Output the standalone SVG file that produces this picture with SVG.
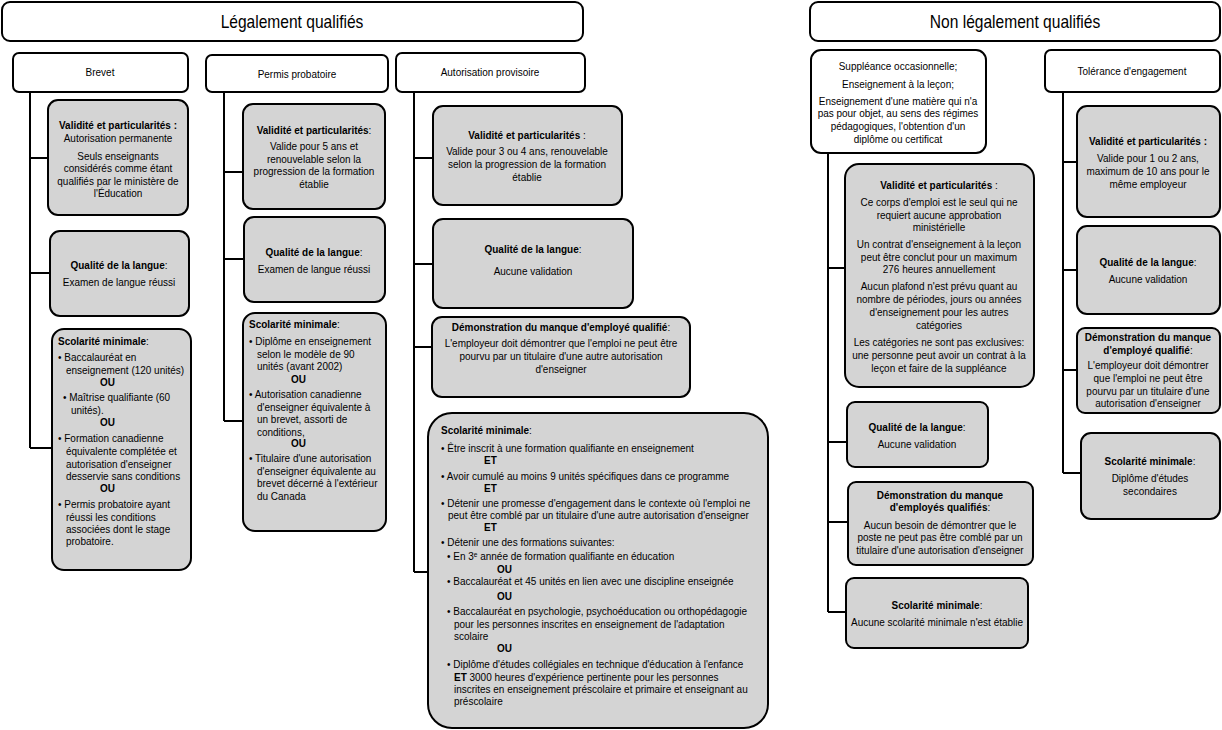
<svg xmlns="http://www.w3.org/2000/svg" width="1222" height="730" viewBox="0 0 1222 730">
<style>
text{font-family:"Liberation Sans",Arial,sans-serif;font-size:10.5px;fill:#000;transform-box:fill-box;transform-origin:left center;transform:scaleX(0.95)}
.c{text-anchor:middle;transform-origin:center}
.b{font-weight:bold}
.h{font-size:17.5px;transform:scaleX(0.89)}
.w{fill:#fff;stroke:#000;stroke-width:2}
.g{fill:#d4d4d4;stroke:#000;stroke-width:2}
.ln{fill:none;stroke:#000;stroke-width:2}
</style>
<rect width="1222" height="730" fill="#fff"/>
<g id="connectors">
<path class="ln" d="M30,92V448M30,158H48M30,273H50M30,448H52"/>
<path class="ln" d="M224,92V421M224,172H243M224,259H244M224,421H243"/>
<path class="ln" d="M414,92V572M414,158H433M414,264H433M414,347H432M414,572H428"/>
<path class="ln" d="M828,153V612M828,268H845M828,442H847M828,522H848M828,612H846"/>
<path class="ln" d="M1063,92V473M1063,162H1077M1063,270H1077M1063,370H1077M1063,473H1081"/>
</g>
<g id="legal">
<rect class="w" x="2" y="2" width="581" height="39" rx="8"/>
<text class="c h" x="292" y="28">Légalement qualifiés</text>
</g>
<g id="nonlegal">
<rect class="w" x="810" y="2" width="410" height="39" rx="8"/>
<text class="c h" x="1015" y="28">Non légalement qualifiés</text>
</g>
<g id="brevet">
<rect class="w" x="13" y="53" width="175" height="39" rx="6"/>
<text class="c" x="100" y="76">Brevet</text>
</g>
<g id="permis">
<rect class="w" x="206" y="55" width="182" height="37" rx="6"/>
<text class="c" x="297" y="78">Permis probatoire</text>
</g>
<g id="autorisation">
<rect class="w" x="396" y="53" width="189" height="39" rx="6"/>
<text class="c" x="490" y="76">Autorisation provisoire</text>
</g>
<g id="suppleance">
<rect class="w" x="811" y="50" width="175" height="103" rx="10"/>
<text class="c" x="898" y="70">Suppléance occasionnelle;</text>
<text class="c" x="898" y="88">Enseignement à la leçon;</text>
<text class="c" x="898" y="105">Enseignement d'une matière qui n'a</text>
<text class="c" x="898" y="117">pas pour objet, au sens des régimes</text>
<text class="c" x="898" y="130">pédagogiques, l'obtention d'un</text>
<text class="c" x="898" y="143">diplôme ou certificat</text>
</g>
<g id="tolerance">
<rect class="w" x="1045" y="50" width="175" height="42" rx="6"/>
<text class="c" x="1132" y="75">Tolérance d'engagement</text>
</g>

<g id="brevet-validite">
<rect class="g" x="48" y="100" width="140" height="115" rx="10"/>
<text class="c" x="118" y="129"><tspan class="b">Validité et particularités :</tspan></text>
<text class="c" x="118" y="142">Autorisation permanente</text>
<text class="c" x="118" y="160">Seuls enseignants</text>
<text class="c" x="118" y="172">considérés comme étant</text>
<text class="c" x="118" y="185">qualifiés par le ministère de</text>
<text class="c" x="118" y="197">l'Éducation</text>
</g>
<g id="brevet-langue">
<rect class="g" x="50" y="231" width="139" height="85" rx="10"/>
<text class="c" x="119" y="269"><tspan class="b">Qualité de la langue</tspan>:</text>
<text class="c" x="119" y="286">Examen de langue réussi</text>
</g>
<g id="brevet-scolarite">
<rect class="g" x="52" y="329" width="139" height="241" rx="12"/>
<text x="58" y="345"><tspan class="b">Scolarité minimale</tspan>:</text>
<text x="58" y="361">• Baccalauréat en</text>
<text x="66" y="374">enseignement (120 unités)</text>
<text class="b" x="100" y="386">OU</text>
<text x="63" y="401">• Maîtrise qualifiante (60</text>
<text x="71" y="414">unités).</text>
<text class="b" x="100" y="426">OU</text>
<text x="58" y="442">• Formation canadienne</text>
<text x="66" y="455">équivalente complétée et</text>
<text x="66" y="468">autorisation d'enseigner</text>
<text x="66" y="480">desservie sans conditions</text>
<text class="b" x="100" y="492">OU</text>
<text x="58" y="508">• Permis probatoire ayant</text>
<text x="66" y="521">réussi les conditions</text>
<text x="66" y="533">associées dont le stage</text>
<text x="66" y="545">probatoire.</text>
</g>

<g id="permis-validite">
<rect class="g" x="243" y="104" width="142" height="105" rx="10"/>
<text class="c" x="314" y="134"><tspan class="b">Validité et  particularités</tspan>:</text>
<text class="c" x="314" y="150">Valide pour 5 ans et</text>
<text class="c" x="314" y="163">renouvelable selon la</text>
<text class="c" x="314" y="175">progression de la formation</text>
<text class="c" x="314" y="188">établie</text>
</g>
<g id="permis-langue">
<rect class="g" x="244" y="217" width="141" height="85" rx="10"/>
<text class="c" x="314" y="256"><tspan class="b">Qualité de la langue</tspan>:</text>
<text class="c" x="314" y="273">Examen de langue réussi</text>
</g>
<g id="permis-scolarite">
<rect class="g" x="243" y="313" width="143" height="218" rx="12"/>
<text x="249" y="328"><tspan class="b">Scolarité minimale</tspan>:</text>
<text x="249" y="345">• Diplôme en enseignement</text>
<text x="257" y="358">selon le modèle de 90</text>
<text x="257" y="370">unités (avant 2002)</text>
<text class="b" x="291" y="383">OU</text>
<text x="249" y="398">•  Autorisation canadienne</text>
<text x="257" y="411">d'enseigner équivalente à</text>
<text x="257" y="423">un brevet, assorti de</text>
<text x="257" y="436">conditions,</text>
<text class="b" x="291" y="447">OU</text>
<text x="249" y="462">• Titulaire d'une autorisation</text>
<text x="257" y="475">d'enseigner équivalente au</text>
<text x="257" y="487">brevet décerné à l'extérieur</text>
<text x="257" y="500">du Canada</text>
</g>

<g id="auto-validite">
<rect class="g" x="433" y="106" width="189" height="99" rx="10"/>
<text class="c" x="527" y="139"><tspan class="b">Validité et particularités</tspan> :</text>
<text class="c" x="527" y="155">Valide pour 3 ou 4 ans, renouvelable</text>
<text class="c" x="527" y="168">selon la progression de la formation</text>
<text class="c" x="527" y="181">établie</text>
</g>
<g id="auto-langue">
<rect class="g" x="433" y="219" width="200" height="89" rx="10"/>
<text class="c" x="533" y="253"><tspan class="b">Qualité de la langue</tspan>:</text>
<text class="c" x="533" y="275">Aucune validation</text>
</g>
<g id="auto-demonstration">
<rect class="g" x="432" y="317" width="258" height="80" rx="10"/>
<text class="c" x="561" y="331"><tspan class="b">Démonstration du manque d'employé qualifié</tspan>:</text>
<text class="c" x="561" y="347">L'employeur doit démontrer que l'emploi ne peut être</text>
<text class="c" x="561" y="360">pourvu par un titulaire d'une autre autorisation</text>
<text class="c" x="561" y="373">d'enseigner</text>
</g>
<g id="auto-scolarite">
<rect class="g" x="428" y="413" width="340" height="315" rx="24"/>
<text x="441" y="434"><tspan class="b">Scolarité minimale</tspan>:</text>
<text x="441" y="452">• Être inscrit à une formation qualifiante en enseignement</text>
<text class="b" x="484" y="464">ET</text>
<text x="441" y="480">• Avoir cumulé au moins 9 unités spécifiques dans ce programme</text>
<text class="b" x="484" y="492">ET</text>
<text x="441" y="507">• Détenir une promesse d'engagement dans le contexte où l'emploi ne</text>
<text x="448" y="519">peut être comblé par un titulaire d'une autre autorisation d'enseigner</text>
<text class="b" x="484" y="531">ET</text>
<text x="441" y="546">• Détenir une des formations suivantes:</text>
<text x="447" y="560">• En 3<tspan font-size="7" dy="-3">e</tspan><tspan dy="3"> année de formation qualifiante en éducation</tspan></text>
<text class="b" x="497" y="573">OU</text>
<text x="447" y="585">• Baccalauréat et 45 unités en lien avec une discipline enseignée</text>
<text class="b" x="497" y="600">OU</text>
<text x="447" y="615">• Baccalauréat en psychologie, psychoéducation ou orthopédagogie</text>
<text x="454" y="628">pour les personnes inscrites en enseignement de l'adaptation</text>
<text x="454" y="640">scolaire</text>
<text class="b" x="497" y="652">OU</text>
<text x="447" y="668">• Diplôme d'études collégiales en technique d'éducation à l'enfance</text>
<text x="454" y="681"><tspan class="b">ET</tspan> 3000 heures d'expérience pertinente pour les personnes</text>
<text x="454" y="693">inscrites en enseignement préscolaire et primaire et enseignant au</text>
<text x="454" y="705">préscolaire</text>
</g>

<g id="sup-validite">
<rect class="g" x="845" y="164" width="189" height="223" rx="14"/>
<text class="c" x="939" y="189"><tspan class="b">Validité et particularités</tspan> :</text>
<text class="c" x="939" y="206">Ce corps d'emploi est le seul qui ne</text>
<text class="c" x="939" y="219">requiert aucune approbation</text>
<text class="c" x="939" y="231">ministérielle</text>
<text class="c" x="939" y="248">Un contrat d'enseignement à la leçon</text>
<text class="c" x="939" y="261">peut être conclut pour un maximum</text>
<text class="c" x="939" y="273">276 heures annuellement</text>
<text class="c" x="939" y="290">Aucun plafond n'est prévu quant au</text>
<text class="c" x="939" y="303">nombre de périodes, jours ou années</text>
<text class="c" x="939" y="316">d'enseignement pour les autres</text>
<text class="c" x="939" y="329">catégories</text>
<text class="c" x="939" y="346">Les catégories ne sont pas exclusives:</text>
<text class="c" x="939" y="359">une personne peut avoir un contrat à la</text>
<text class="c" x="939" y="372">leçon et faire de la suppléance</text>
</g>
<g id="sup-langue">
<rect class="g" x="847" y="402" width="141" height="65" rx="8"/>
<text class="c" x="917" y="431"><tspan class="b">Qualité de la langue</tspan>:</text>
<text class="c" x="917" y="448">Aucune validation</text>
</g>
<g id="sup-demonstration">
<rect class="g" x="848" y="482" width="185" height="83" rx="8"/>
<text class="c b" x="940" y="499">Démonstration du manque</text>
<text class="c" x="940" y="511"><tspan class="b">d'employés qualifiés</tspan>:</text>
<text class="c" x="940" y="529">Aucun besoin de démontrer que le</text>
<text class="c" x="940" y="541">poste ne peut pas être comblé par un</text>
<text class="c" x="940" y="554">titulaire d'une autorisation d'enseigner</text>
</g>
<g id="sup-scolarite">
<rect class="g" x="846" y="578" width="182" height="70" rx="8"/>
<text class="c" x="937" y="609"><tspan class="b">Scolarité minimale</tspan>:</text>
<text class="c" x="937" y="626">Aucune scolarité minimale n'est établie</text>
</g>

<g id="tol-validite">
<rect class="g" x="1077" y="106" width="143" height="111" rx="10"/>
<text class="c" x="1148" y="145"><tspan class="b">Validité et particularités :</tspan></text>
<text class="c" x="1148" y="162">Valide pour 1 ou 2 ans,</text>
<text class="c" x="1148" y="175">maximum de 10 ans pour le</text>
<text class="c" x="1148" y="188">même employeur</text>
</g>
<g id="tol-langue">
<rect class="g" x="1077" y="226" width="143" height="88" rx="10"/>
<text class="c" x="1148" y="266"><tspan class="b">Qualité de la langue</tspan>:</text>
<text class="c" x="1148" y="283">Aucune validation</text>
</g>
<g id="tol-demonstration">
<rect class="g" x="1077" y="328" width="143" height="85" rx="8"/>
<text class="c b" x="1148" y="341">Démonstration du manque</text>
<text class="c" x="1148" y="354"><tspan class="b">d'employé qualifié</tspan>:</text>
<text class="c" x="1148" y="369">L'employeur doit démontrer</text>
<text class="c" x="1148" y="382">que l'emploi ne peut être</text>
<text class="c" x="1148" y="395">pourvu par un titulaire d'une</text>
<text class="c" x="1148" y="407">autorisation d'enseigner</text>
</g>
<g id="tol-scolarite">
<rect class="g" x="1081" y="433" width="139" height="86" rx="10"/>
<text class="c" x="1150" y="465"><tspan class="b">Scolarité minimale</tspan>:</text>
<text class="c" x="1150" y="482">Diplôme d'études</text>
<text class="c" x="1150" y="495">secondaires</text>
</g>
</svg>
